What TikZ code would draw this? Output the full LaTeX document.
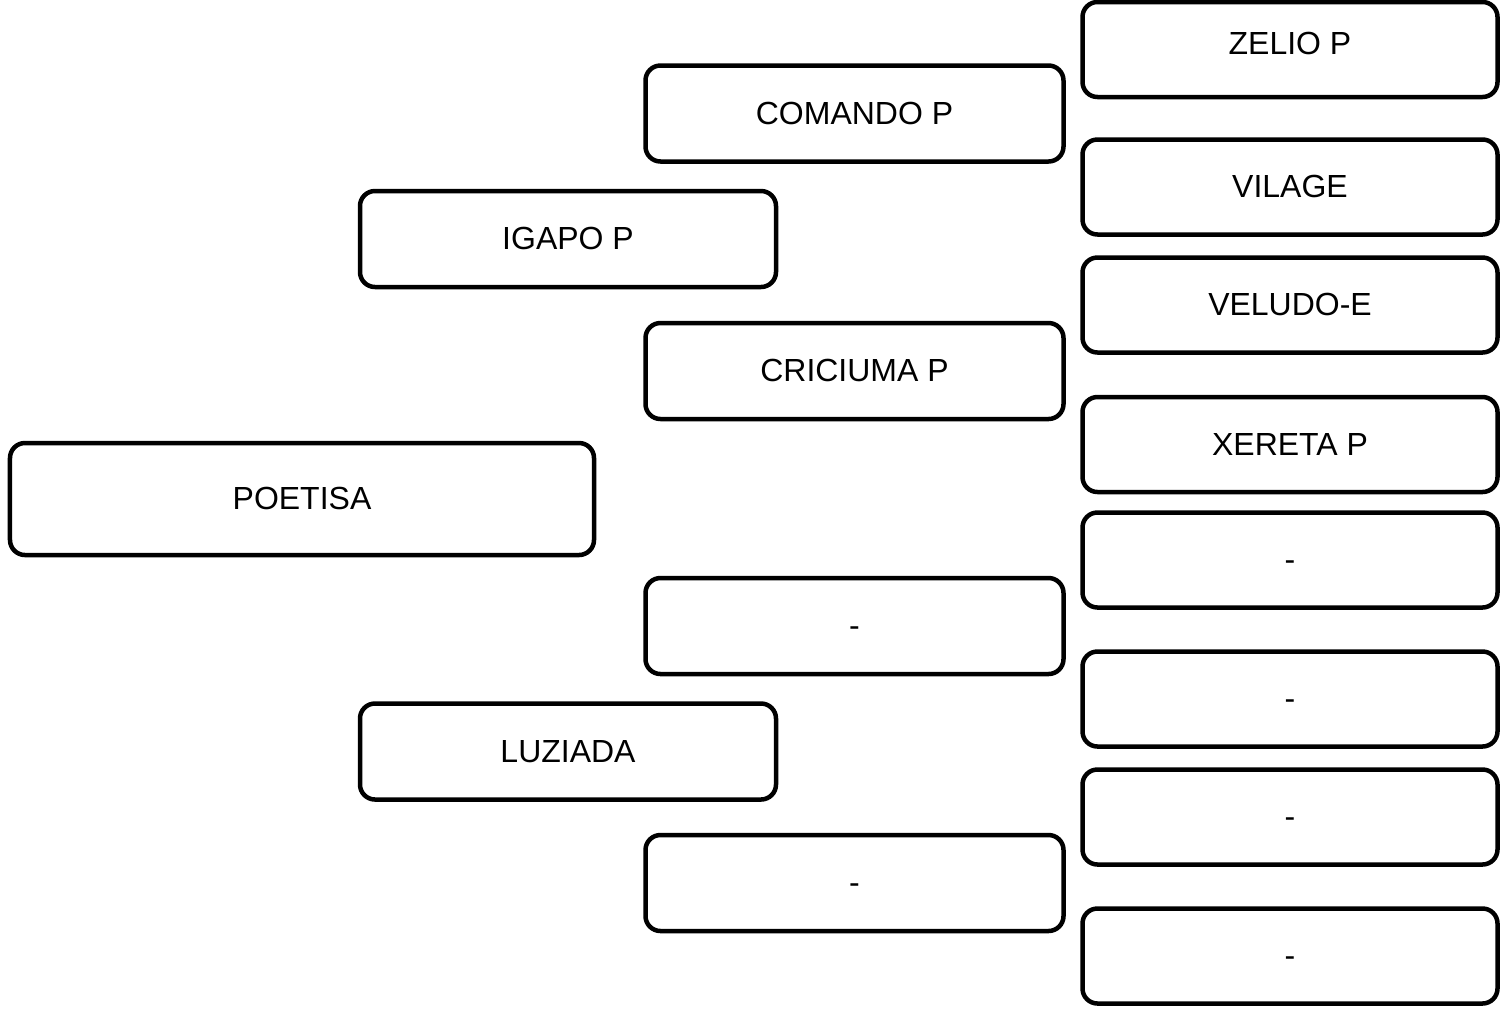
\documentclass[tikz,border=0pt]{standalone}
\usepackage{fontspec}
\setmainfont{Liberation Sans}
\usetikzlibrary{positioning}

\begin{document}
\begin{tikzpicture}[
    horse/.style={rectangle, draw=black, line width=0.09cm, rounded corners=0.3cm, fill=white, text centered, text height=0.46cm, text depth=0.04cm, font=\fontsize{18.2}{22}\selectfont},
    sire/.style={horse, minimum width=11.68cm, minimum height=2.24cm},
    parent/.style={horse, minimum width=8.32cm, minimum height=1.92cm},
    grand/.style={horse, minimum width=8.36cm, minimum height=1.92cm},
    great/.style={horse, minimum width=8.3cm, minimum height=1.9cm}
]
    \useasboundingbox (0,0) rectangle (30.02,-20.22);

    % Subject
    \node [sire] (poetisa) at (6.04,-9.98) {POETISA};

    % Parents
    \node [parent] (igapo) at (11.36,-4.78) {IGAPO P};
    \node [parent] (luziada) at (11.36,-15.03) {LUZIADA};

    % Grandparents
    \node [grand] (comando) at (17.09,-2.27) {COMANDO P};
    \node [grand] (criciuma) at (17.09,-7.42) {CRICIUMA P};
    \node [grand] (gdam) at (17.09,-12.52) {-};
    \node [grand] (gsire) at (17.09,-17.66) {-};

    % Great-grandparents
    \node [great, text depth=0.26cm] (zelio) at (25.8,-0.99) {ZELIO P};
    \node [great] (vilage) at (25.8,-3.74) {VILAGE};
    \node [great] (veludo) at (25.8,-6.10) {VELUDO-E};
    \node [great] (xereta) at (25.8,-8.89) {XERETA P};
    \node [great] (ggone) at (25.8,-11.20) {-};
    \node [great] (ggtwo) at (25.8,-13.98) {-};
    \node [great] (ggthree) at (25.8,-16.34) {-};
    \node [great] (ggfour) at (25.8,-19.12) {-};
\end{tikzpicture}
\end{document}
